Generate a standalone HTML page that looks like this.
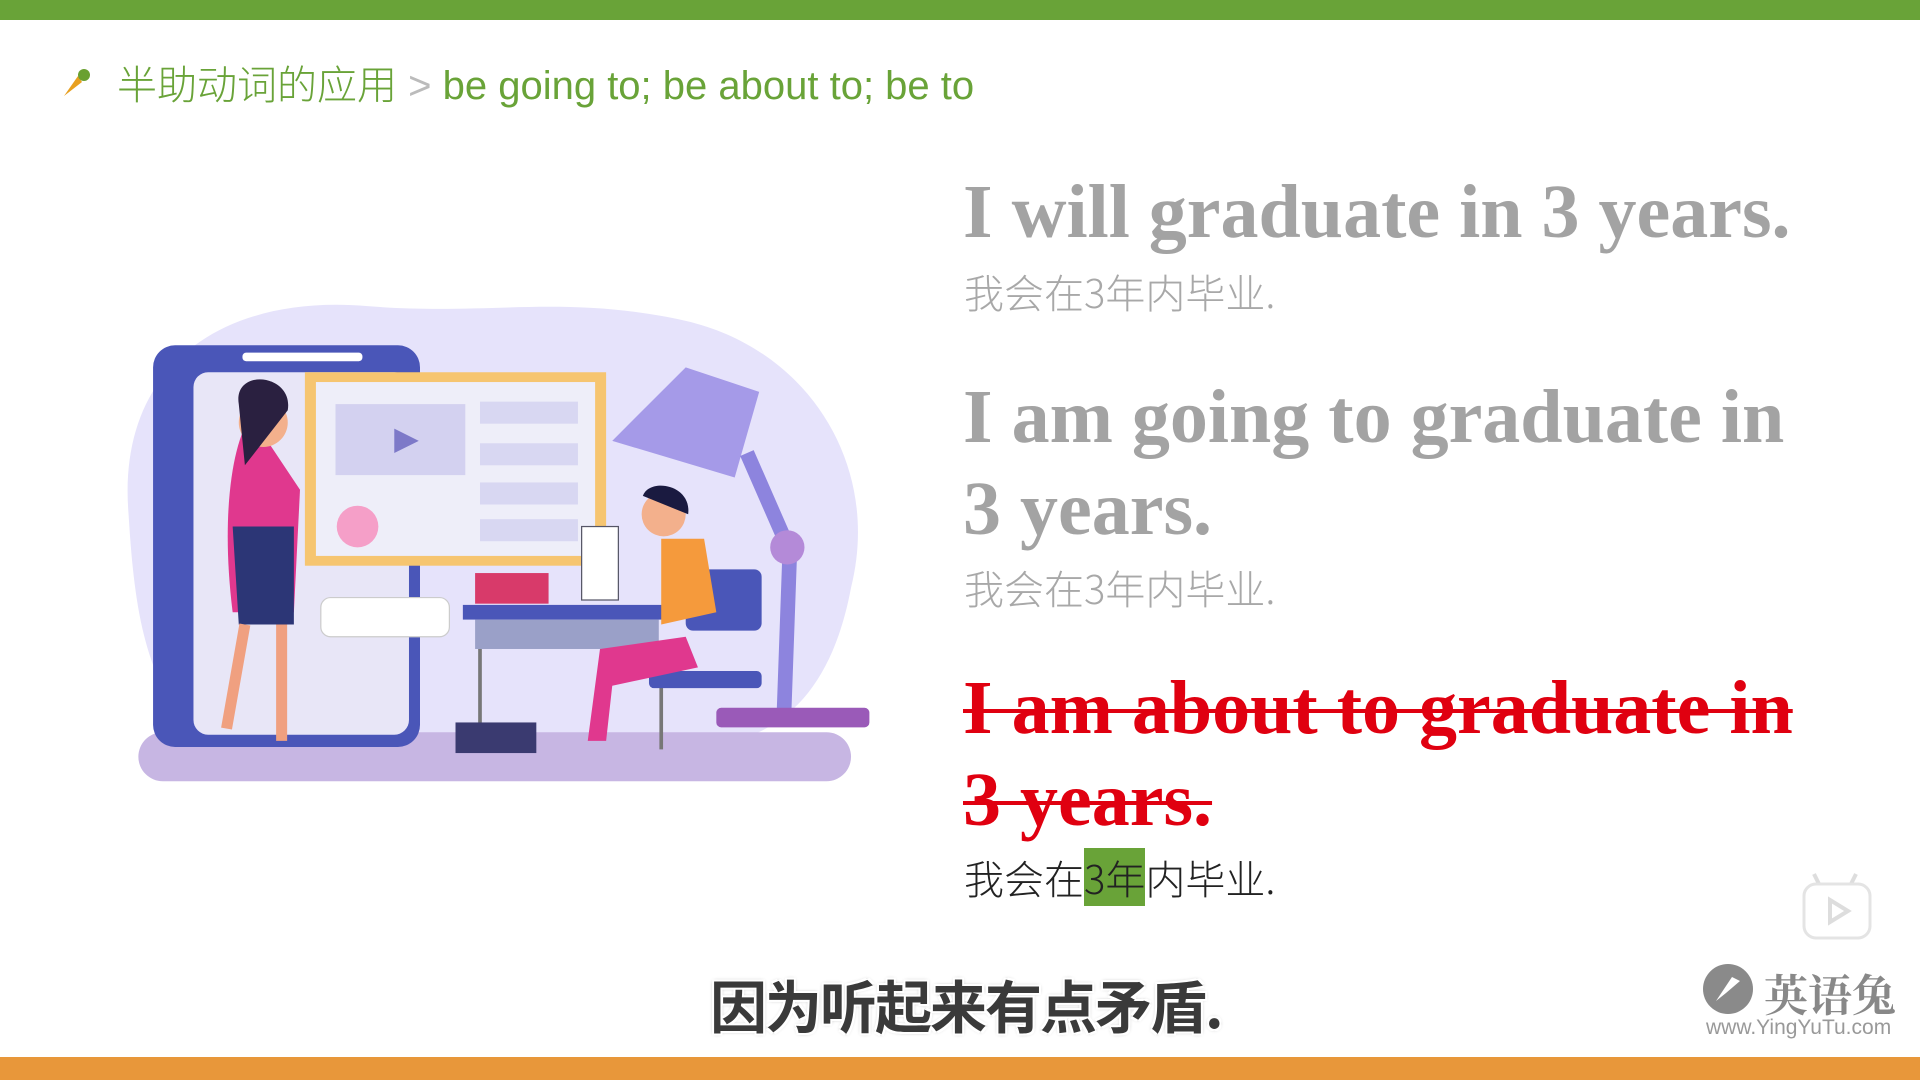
<!DOCTYPE html>
<html><head><meta charset="utf-8"><style>
body{margin:0;width:1920px;height:1080px;background:#fff;position:relative;overflow:hidden;font-family:"Liberation Sans","Noto Sans CJK SC",sans-serif}
.abs{position:absolute;white-space:nowrap}
.en{font-family:"Liberation Serif","Noto Serif CJK SC",serif;font-weight:bold;font-size:76px;line-height:92px;color:#a3a3a3}
.cn{font-family:"Noto Sans CJK SC",sans-serif;font-weight:300;font-size:40px;color:#a8a8a8}
</style></head><body>
<div class="abs" style="left:0;top:0;width:1920px;height:20px;background:#69a338"></div>
<div class="abs" style="left:0;top:1057px;width:1920px;height:23px;background:#e8973a"></div>
<svg class="abs" style="left:60px;top:66px" width="32" height="34" viewBox="0 0 32 34"><path d="M18 10 L4 30 L22 16 Z" fill="#e8a020"/><circle cx="24" cy="9" r="6" fill="#6aa030"/></svg>
<div class="abs" style="left:117px;top:53px;font-size:40px;font-weight:300;color:#69a338;font-family:'Liberation Sans','Noto Sans CJK SC',sans-serif">半助动词的应用 <span style="color:#bbb">&gt;</span> be going to; be about to; be to</div>

<div class="abs en" style="left:963px;top:166px">I will graduate in 3 years.</div>
<div class="abs cn" style="left:964px;top:262px">我会在3年内毕业.</div>
<div class="abs en" style="left:963px;top:371px">I am going to graduate in<br>3 years.</div>
<div class="abs cn" style="left:964px;top:558px">我会在3年内毕业.</div>
<div class="abs en" style="left:963px;top:662px;color:#e00010;text-decoration:line-through;text-decoration-thickness:4px">I am about to graduate in<br>3 years.</div>
<div class="abs cn" style="left:964px;top:848px;color:#222">我会在<span style="background:#69a338">3年</span>内毕业.</div>

<div class="abs" style="left:710px;top:963px;font-size:57px;font-weight:bold;color:#3a3a3a;font-family:'Noto Sans CJK SC',sans-serif;text-shadow:-2px -2px 0 #fff,2px -2px 0 #fff,-2px 2px 0 #fff,2px 2px 0 #fff,0 0 4px #888;letter-spacing:-2px">因为听起来有点矛盾.</div>

<svg class="abs" style="left:1800px;top:872px" width="76" height="70" viewBox="0 0 76 70"><path d="M20 14 L14 2 M50 14 L56 2" stroke="#ddd" stroke-width="4"/><rect x="4" y="12" width="66" height="54" rx="12" fill="#fff" stroke="#e4e4e4" stroke-width="3"/><path d="M30 28 L48 39 L30 50 Z" fill="none" stroke="#ddd" stroke-width="4"/></svg>
<svg class="abs" style="left:1702px;top:963px" width="52" height="52"><circle cx="26" cy="26" r="25" fill="#8a8a8a"/><path d="M14 38 L30 14 L38 18 L24 30 Z" fill="#fff"/></svg>
<div class="abs" style="left:1764px;top:960px;font-size:44px;color:#888;font-family:'Noto Serif CJK SC',serif;font-weight:bold">英语兔</div>
<div class="abs" style="left:1706px;top:1016px;font-size:21px;color:#999">www.YingYuTu.com</div>

<svg class="abs" style="left:0;top:0" width="1920" height="1080" viewBox="0 0 1568 882">
<path d="M105 420 C95 300 180 240 300 250 C400 258 460 240 560 262 C660 285 720 380 695 480 C680 560 640 610 560 610 L200 610 C120 600 110 500 105 420 Z" fill="#e6e3fb"/>
<rect x="113" y="598" width="582" height="40" rx="20" fill="#c7b6e3"/>
<rect x="125" y="282" width="218" height="328" rx="18" fill="#4a56b8"/>
<rect x="158" y="304" width="176" height="296" rx="12" fill="#e8e6f7"/>
<rect x="198" y="288" width="98" height="7" rx="3" fill="#fff"/>
<rect x="249" y="304" width="246" height="158" fill="#f6c570"/>
<rect x="258" y="312" width="228" height="142" fill="#eeeef9"/>
<rect x="274" y="330" width="106" height="58" fill="#d3d1f0"/>
<path d="M322 350 L342 360 L322 370 Z" fill="#7d79c8"/>
<circle cx="292" cy="430" r="17" fill="#f59fc8"/>
<rect x="392" y="328" width="80" height="18" fill="#d8d7f2"/><rect x="392" y="362" width="80" height="18" fill="#d8d7f2"/><rect x="392" y="394" width="80" height="18" fill="#d8d7f2"/><rect x="392" y="424" width="80" height="18" fill="#d8d7f2"/>
<rect x="262" y="488" width="105" height="32" rx="8" fill="#fff" stroke="#ccc"/>
<path d="M500 360 L560 300 L620 320 L600 390 Z" fill="#a59ae8"/>
<path d="M610 370 L645 450 L640 590" stroke="#8d84de" stroke-width="12" fill="none"/>
<circle cx="643" cy="447" r="14" fill="#b48ad8"/>
<rect x="585" y="578" width="125" height="16" rx="4" fill="#9a5ab8"/>
<rect x="378" y="494" width="176" height="12" fill="#4a56b8"/>
<rect x="388" y="506" width="150" height="24" fill="#9aa0c8"/>
<path d="M392 530 L392 612 M540 530 L540 612" stroke="#777" stroke-width="3"/>
<rect x="560" y="465" width="62" height="50" rx="6" fill="#4a56b8"/>
<rect x="530" y="548" width="92" height="14" rx="4" fill="#4a56b8"/>
<path d="M205 340 C190 360 180 420 190 500 L240 500 L245 400 Z" fill="#e0388e"/>
<path d="M190 430 L240 430 L240 510 L195 510 Z" fill="#2c3676"/>
<path d="M200 510 L185 595 M230 510 L230 605" stroke="#f0a080" stroke-width="9"/>
<circle cx="215" cy="345" r="20" fill="#f3b08c"/><path d="M195 330 C190 300 240 305 235 335 L200 380 Z" fill="#2a2040"/>
<path d="M540 440 L575 440 L585 500 L540 510 Z" fill="#f59a3c"/>
<path d="M490 530 L560 520 L570 545 L500 560 L495 605 L480 605 Z" fill="#e0388e"/>
<circle cx="542" cy="420" r="18" fill="#f3b08c"/><path d="M525 405 C530 390 565 395 562 420 Z" fill="#1a1a40"/>
<rect x="475" y="430" width="30" height="60" fill="#fff" stroke="#556"/>
<rect x="388" y="468" width="60" height="25" fill="#d83a6a"/>
<rect x="372" y="590" width="66" height="25" fill="#3a3a70"/>
</svg>
</body></html>
